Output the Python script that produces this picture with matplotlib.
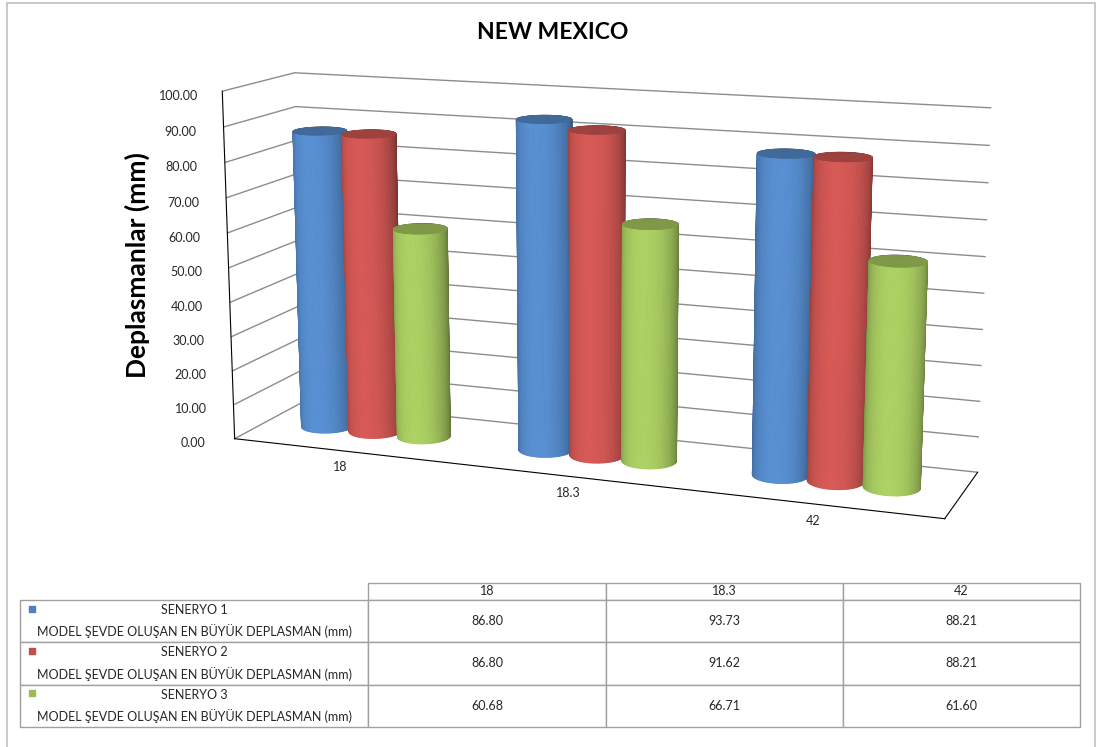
import numpy as np
import matplotlib
matplotlib.use('Agg')
import matplotlib.pyplot as plt
from matplotlib.ticker import FormatStrFormatter
from matplotlib.patches import Rectangle

plt.rcParams['font.family'] = ['Lato', 'DejaVu Sans']

# data
categories = ['18', '18.3', '42']
series_names = ['SENERYO 1', 'SENERYO 2', 'SENERYO 3']
row_text = 'MODEL ŞEVDE OLUŞAN EN BÜYÜK DEPLASMAN (mm)'
seneryo1 = [86.80, 93.73, 88.21]
seneryo2 = [86.80, 91.62, 88.21]
seneryo3 = [60.68, 66.71, 61.60]
z_ticks = [0, 10, 20, 30, 40, 50, 60, 70, 80, 90, 100]

colors = ['#4F81BD', '#C0504D', '#9BBB59']
series = [seneryo1, seneryo2, seneryo3]

ELEV, AZIM = 12.5, -69.5
depth = 0.62
radius = 0.11
offsets = [-0.225, 0.0, 0.225]

fig = plt.figure(figsize=(10.97, 7.47), dpi=100)

# outer frame
fig.patches.append(Rectangle((7 / 1097, -0.1), 1088 / 1097, 1.1 - 3 / 747,
                             transform=fig.transFigure, fill=False,
                             edgecolor='#c0c0c0', lw=1.2))

ax = fig.add_axes([0.0765, 0.1935, 0.92, 0.84], projection='3d', computed_zorder=False)
ax.set_box_aspect((3, depth, 1.46), zoom=1.31)
ax.view_init(elev=ELEV, azim=AZIM)
ax.set_proj_type('persp', focal_length=0.675)
ax.set_xlim(-0.5, len(categories) - 0.5)
ax.set_ylim(0, depth)
ax.set_zlim(0, 100)


def cylinder(xc, yc, h, base, z):
    rgb = np.array(matplotlib.colors.to_rgb(base))
    th = np.linspace(0, 2 * np.pi, 97)
    T, Z = np.meshgrid(th, [0, h])
    X = xc + radius * np.cos(T)
    Y = yc + radius * np.sin(T)
    mid = th + (th[1] - th[0]) / 2
    light = np.deg2rad(AZIM - 15)
    f = 0.72 + 0.4 * np.cos(mid - light)
    fc = np.clip(np.outer(np.ones(2), f)[..., None] * rgb, 0, 1)
    fc = np.concatenate([fc, np.ones((2, len(th), 1))], axis=2)
    side = ax.plot_surface(X, Y, Z, facecolors=fc, shade=False, rstride=1, cstride=1,
                           linewidth=0.8, zorder=z)
    side.set_clip_on(False)
    R, T2 = np.meshgrid([0, radius], th)
    Xt = xc + R * np.cos(T2)
    Yt = yc + R * np.sin(T2)
    Zt = np.full_like(Xt, h)
    top = np.clip(rgb * 0.82, 0, 1)
    cap = ax.plot_surface(Xt, Yt, Zt, color=top, shade=False, rstride=1, cstride=4,
                          linewidth=0.5, edgecolor=top, zorder=z + 0.5)
    cap.set_clip_on(False)


z = 1
for i in range(len(categories)):
    for s in range(len(series)):
        cylinder(i + offsets[s], depth / 2, series[s][i], colors[s], z)
        z += 1

# axes styling
for axis in (ax.xaxis, ax.yaxis, ax.zaxis):
    axis.set_pane_color((1, 1, 1, 0))
    axis.pane.set_edgecolor('none')
    axis._axinfo['axisline']['color'] = '#8c8c8c'
    axis._axinfo['axisline']['linewidth'] = 1.0
    axis._axinfo['tick']['inward_factor'] = 0
    axis._axinfo['tick']['outward_factor'] = 0
    axis._axinfo['grid']['color'] = (1, 1, 1, 0)
ax.zaxis._axinfo['grid']['color'] = '#8c8c8c'
ax.zaxis._axinfo['grid']['linewidth'] = 1.0
ax.grid(True)
ax.zaxis.set_ticks_position('lower')

ax.set_xticks(range(len(categories)))
ax.set_xticklabels(categories, fontsize=9, color='#262626')
ax.set_yticks([])
ax.set_zticks(z_ticks)
ax.zaxis.set_major_formatter(FormatStrFormatter('%.2f'))
ax.tick_params(axis='z', labelsize=9, labelcolor='#262626', pad=6)
ax.tick_params(axis='x', pad=-2)

fig.text(0.504, 0.956, 'NEW MEXICO', ha='center', va='center', fontsize=16.5,
         fontweight='bold', color='#000000')
fig.text(0.125, 0.645, 'Deplasmanlar (mm)', ha='center', va='center', fontsize=19,
         fontweight='bold', rotation=90)

# data table
tax = fig.add_axes([20 / 1097, 1 - 727 / 747, 1060 / 1097, 144 / 747])
tax.axis('off')
cell_text = []
for s in range(len(series)):
    cell_text.append([series_names[s] + '\n' + row_text] + ['%.2f' % v for v in series[s]])
tab = tax.table(cellText=cell_text, colLabels=[''] + categories,
                colWidths=[348, 237, 237, 237], cellLoc='center', bbox=[0, 0, 1, 1])
tab.auto_set_font_size(False)
tab.set_fontsize(9)
for (r, c), cell in tab.get_celld().items():
    cell.set_edgecolor('#a0a0a0')
    cell.set_linewidth(1.0)
    cell.set_height(17 if r == 0 else 43)
    cell.get_text().set_color('#262626')
    if r > 0 and c == 0:
        cell.get_text().set_linespacing(1.7)
tab[0, 0].visible_edges = 'open'

row_h = [17, 43, 43, 43]
for s in range(len(series)):
    top = sum(row_h[:s + 1])
    tax.scatter(12 / 1060, 1 - (top + 9) / 146, marker='s', s=22, color=colors[s],
                transform=tax.transAxes, clip_on=False, zorder=5)

fig.savefig('out.png', dpi=100)
